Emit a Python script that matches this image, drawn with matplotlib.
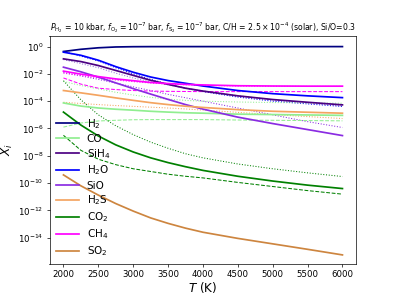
import numpy as np
import matplotlib
matplotlib.use("Agg")
import matplotlib.pyplot as plt

# Temperature grid (K)
T = [2000, 2250, 2500, 2750, 3000, 3250, 3500, 3750, 4000, 4500, 5000, 5500, 6000]

# log10 mole fractions, solid lines (main model)
logX_H2   = [-0.36, -0.20, -0.09, -0.03, -0.01, -0.005, -0.004, -0.003, -0.003, -0.003, -0.003, -0.003, -0.003]
logX_CO   = [-4.13, -4.36, -4.50, -4.59, -4.66, -4.74, -4.80, -4.85, -4.88, -4.95, -4.98, -5.01, -5.04]
logX_SiH4 = [-0.90, -1.10, -1.39, -1.75, -2.11, -2.47, -2.77, -3.05, -3.26, -3.61, -3.88, -4.08, -4.27]
logX_H2O  = [-0.41, -0.64, -1.00, -1.47, -1.88, -2.23, -2.49, -2.69, -2.89, -3.22, -3.45, -3.61, -3.74]
logX_SiO  = [-1.51, -1.85, -2.24, -2.66, -3.08, -3.48, -3.87, -4.25, -4.58, -5.17, -5.64, -6.08, -6.52]
logX_H2S  = [-3.22, -3.39, -3.57, -3.76, -3.94, -4.11, -4.25, -4.37, -4.46, -4.62, -4.74, -4.81, -4.88]
logX_CO2  = [-4.80, -5.75, -6.55, -7.20, -7.72, -8.15, -8.50, -8.80, -9.07, -9.50, -9.85, -10.15, -10.40]
logX_CH4  = [-1.80, -2.02, -2.20, -2.37, -2.50, -2.63, -2.71, -2.77, -2.81, -2.87, -2.89, -2.90, -2.90]
logX_SO2  = [-9.40, -10.20, -10.88, -11.50, -12.05, -12.55, -12.95, -13.30, -13.60, -14.05, -14.45, -14.85, -15.26]

# comparison curves (dotted / dashed)
logX_H2O_dot  = [-0.36, -0.70, -1.05, -1.55, -2.00, -2.40, -2.75, -3.05, -3.30, -3.70, -4.00, -4.20, -4.39]
logX_SiH4_dot = [-0.95, -1.25, -1.55, -1.95, -2.30, -2.58, -2.80, -3.05, -3.25, -3.60, -3.90, -4.15, -4.35]
logX_SiO_dot  = [-1.90, -2.15, -2.40, -2.68, -2.95, -3.22, -3.50, -3.75, -4.00, -4.50, -5.00, -5.50, -5.93]
logX_CH4_dot  = [-1.95, -2.12, -2.30, -2.45, -2.57, -2.67, -2.75, -2.80, -2.84, -2.89, -2.91, -2.92, -2.92]
logX_CH4_dash = [-2.30, -2.75, -3.05, -3.15, -3.22, -3.26, -3.28, -3.29, -3.30, -3.30, -3.30, -3.30, -3.30]
logX_H2S_dot  = [-4.08, -4.17, -4.25, -4.32, -4.38, -4.44, -4.50, -4.57, -4.65, -4.82, -4.98, -5.13, -5.27]
logX_CO_dot   = [-2.56, -2.85, -3.10, -3.35, -3.55, -3.72, -3.85, -3.94, -4.00, -4.06, -4.10, -4.13, -4.15]
logX_CO_dash  = [-5.90, -5.60, -5.45, -5.40, -5.36, -5.35, -5.35, -5.35, -5.35, -5.38, -5.40, -5.42, -5.44]
logX_CO2_dot  = [-2.50, -3.90, -5.00, -5.80, -6.45, -7.00, -7.45, -7.85, -8.15, -8.60, -8.95, -9.25, -9.52]
logX_CO2_dash = [-6.50, -7.60, -8.25, -8.65, -8.95, -9.15, -9.35, -9.50, -9.62, -9.95, -10.25, -10.55, -10.81]

species = ["H$_2$", "CO", "SiH$_4$", "H$_2$O", "SiO", "H$_2$S", "CO$_2$", "CH$_4$", "SO$_2$"]
colors = ["navy", "lightgreen", "indigo", "blue", "blueviolet", "sandybrown", "green", "magenta", "peru"]
solid = [logX_H2, logX_CO, logX_SiH4, logX_H2O, logX_SiO, logX_H2S, logX_CO2, logX_CH4, logX_SO2]

fig, ax = plt.subplots(figsize=(6.4, 4.8), dpi=61.875)

Ta = np.array(T)
extra = [
    (logX_H2O_dot, "blue", ":"),
    (logX_SiH4_dot, "mediumpurple", ":"),
    (logX_SiO_dot, "blueviolet", ":"),
    (logX_CH4_dot, "magenta", ":"),
    (logX_CH4_dash, "magenta", "--"),
    (logX_H2S_dot, "sandybrown", ":"),
    (logX_CO_dot, "lightgreen", ":"),
    (logX_CO_dash, "lightgreen", "--"),
    (logX_CO2_dot, "green", ":"),
    (logX_CO2_dash, "green", "--"),
]
for vals, c, ls in extra:
    ax.plot(Ta, 10 ** np.array(vals), color=c, ls=ls, lw=1.2)

for vals, c, lab in zip(solid, colors, species):
    ax.plot(Ta, 10 ** np.array(vals), color=c, lw=2, label=lab)

ax.set_yscale("log")
ax.set_ylim(10 ** -15.95, 10 ** 0.8)
ax.set_xlabel("$T$ (K)", fontsize=14, labelpad=1)
ax.set_ylabel("$X_i$", fontsize=14)
ax.set_title(r"$P_{\rm H_2}$ = 10 kbar, $f_{\rm O_2} = 10^{-7}$ bar, $f_{\rm S_2} = 10^{-7}$ bar, "
             r"C/H = $2.5\times10^{-4}$ (solar), Si/O=0.3", fontsize=9)
ax.legend(loc="lower left", fontsize=12, frameon=False, borderaxespad=0.2,
          labelspacing=0.3, handlelength=2.3, handletextpad=0.7)

fig.savefig("out.png", dpi=61.875)
